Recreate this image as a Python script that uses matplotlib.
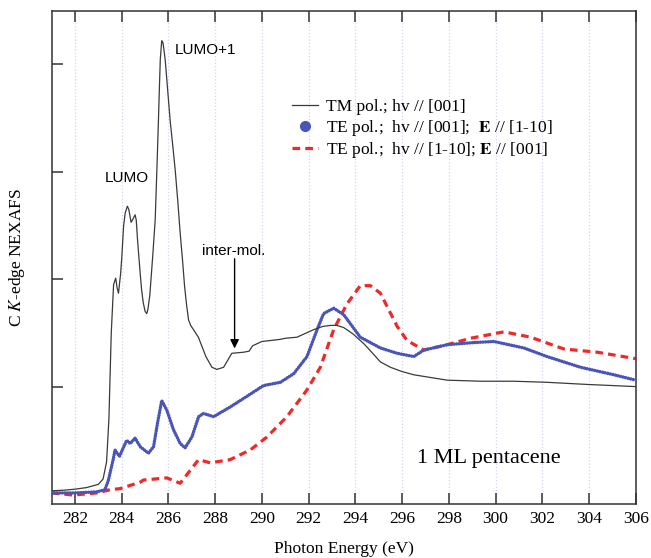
import matplotlib
matplotlib.use("Agg")
import matplotlib.pyplot as plt
from matplotlib.lines import Line2D

plt.rcParams['font.family'] = ['Liberation Serif', 'DejaVu Serif']
plt.rcParams['mathtext.fontset'] = 'stix'

# TM pol. (thin black line)
tm_x = [281.0, 281.5, 282.0, 282.5, 283.0, 283.2, 283.35, 283.45, 283.55, 283.65,
        283.74, 283.8, 283.86, 283.95, 284.0, 284.08, 284.15, 284.24, 284.3, 284.40,
        284.48, 284.57, 284.62, 284.68, 284.79, 284.85, 284.92, 285.0, 285.07, 285.12,
        285.2, 285.32, 285.43, 285.5, 285.57, 285.62, 285.65, 285.71, 285.75, 285.78,
        285.86, 285.95, 286.07, 286.18, 286.29, 286.4, 286.50, 286.6, 286.69, 286.78,
        286.86, 286.95, 287.07, 287.28, 287.6, 287.86, 288.07, 288.36, 288.71, 289.21,
        289.45, 289.6, 289.8, 290.0, 290.79, 291.0, 291.5, 292.21, 292.6, 292.93,
        293.2, 293.5, 293.9, 294.36, 294.7, 295.07, 295.5, 296.0, 296.5, 297.93,
        299.36, 300.78, 302.2, 303.93, 306.0]
tm_y = [0.03, 0.035, 0.045, 0.06, 0.09, 0.14, 0.3, 0.7, 1.5, 1.95,
        2.01, 1.92, 1.87, 2.05, 2.2, 2.5, 2.62, 2.68, 2.65, 2.53,
        2.56, 2.60, 2.55, 2.35, 2.05, 1.9, 1.78, 1.7, 1.68, 1.72,
        1.85, 2.2, 2.55, 3.0, 3.48, 3.85, 4.05, 4.22, 4.21, 4.18,
        4.04, 3.8, 3.48, 3.25, 3.01, 2.72, 2.43, 2.18, 1.93, 1.75,
        1.62, 1.57, 1.53, 1.46, 1.28, 1.18, 1.16, 1.18, 1.31, 1.32,
        1.33, 1.38, 1.40, 1.42, 1.44, 1.45, 1.46, 1.53, 1.56, 1.57,
        1.57, 1.55, 1.49, 1.40, 1.32, 1.23, 1.18, 1.14, 1.11, 1.06,
        1.05, 1.05, 1.04, 1.02, 1.00]

# TE pol., hv // [001] (blue dots)
te1_x = [281.0, 282.0, 282.93, 283.28, 283.43, 283.64, 283.71, 283.9, 284.21, 284.36,
         284.57, 284.79, 285.14, 285.36, 285.53, 285.71, 285.93, 286.21, 286.5, 286.71,
         287.0, 287.29, 287.5, 287.93, 288.64, 289.36, 290.07, 290.79, 291.36, 291.93,
         292.36, 292.64, 293.07, 293.5, 294.21, 295.07, 295.79, 296.5, 296.93, 297.93,
         299.07, 299.93, 300.36, 301.21, 302.2, 303.64, 305.07, 306.0]
te1_y = [0.01, 0.01, 0.02, 0.04, 0.13, 0.33, 0.41, 0.35, 0.50, 0.47,
         0.52, 0.44, 0.38, 0.44, 0.66, 0.87, 0.78, 0.60, 0.47, 0.43,
         0.53, 0.72, 0.75, 0.72, 0.81, 0.91, 1.01, 1.04, 1.12, 1.28,
         1.53, 1.68, 1.73, 1.67, 1.46, 1.36, 1.31, 1.28, 1.34, 1.39,
         1.41, 1.42, 1.40, 1.36, 1.28, 1.18, 1.11, 1.06]

# TE pol., hv // [1-10] (red dashed)
te2_x = [281.0, 281.93, 282.93, 283.5, 283.93, 284.79, 284.93, 285.93, 286.5, 286.93,
         287.29, 287.79, 288.64, 289.5, 290.21, 291.07, 291.93, 292.5, 293.07, 293.64,
         294.21, 294.64, 295.07, 295.79, 296.21, 296.93, 297.93, 298.93, 300.36, 301.5,
         302.93, 304.36, 306.0]
te2_y = [0.01, -0.01, 0.01, 0.04, 0.05, 0.11, 0.13, 0.15, 0.10, 0.22,
         0.32, 0.29, 0.32, 0.41, 0.53, 0.72, 0.97, 1.18, 1.53, 1.77,
         1.94, 1.94, 1.87, 1.56, 1.43, 1.34, 1.39, 1.45, 1.51, 1.46,
         1.35, 1.32, 1.26]

x_ticks = list(range(282, 307, 2))
y_ticks = [1, 2, 3, 4]

blue = '#4a55b8'
red = '#f02828'

fig = plt.figure(figsize=(6.51, 5.58), dpi=100)
ax = fig.add_axes([0.0794, 0.0968, 0.8971, 0.884])

ax.plot(te2_x, te2_y, color=red, lw=2.3, dashes=(2.4, 1.6), zorder=2)
ax.plot(te1_x, te1_y, color=blue, lw=2.5, linestyle=(0, (0.01, 0.75)),
        dash_capstyle='round', zorder=3)
ax.plot(tm_x, tm_y, color='#3a3a3a', lw=0.9, zorder=4)

ax.set_xlim(281, 306)
ax.set_ylim(-0.093, 4.5)
ax.set_xticks(x_ticks)
ax.set_yticks(y_ticks)
ax.set_yticklabels([])
ax.grid(axis='x', color='#d4d4f2', linestyle=':', lw=0.9)
ax.tick_params(axis='x', direction='in', length=8, width=1.1, top=True,
               labelsize=12.5, pad=5, color='#333333')
ax.tick_params(axis='y', direction='in', length=8, width=1.1, color='#333333')
for s in ax.spines.values():
    s.set_linewidth(1.1)
    s.set_color('#333333')

ax.set_xlabel('Photon Energy (eV)', fontsize=12.5, labelpad=10)
ax.set_ylabel('C $K$-edge NEXAFS', fontsize=12.5, labelpad=14)

# annotations
ax.text(283.28, 2.94, 'LUMO', family='Liberation Sans', fontsize=11, va='center')
ax.text(286.25, 4.13, 'LUMO+1', family='Liberation Sans', fontsize=11, va='center')
ax.text(287.43, 2.26, 'inter-mol.', family='Liberation Sans', fontsize=11, va='center')
ax.annotate('', xy=(288.83, 1.355), xytext=(288.83, 2.19),
            arrowprops=dict(arrowstyle='-|>', color='black', lw=1.0,
                            mutation_scale=13, shrinkA=0, shrinkB=0))
ax.text(296.62, 0.335, '1 ML pentacene', fontsize=16, va='center')

handles = [Line2D([], [], color='#3a3a3a', lw=0.9),
           Line2D([], [], color=blue, marker='o', ls='none', markersize=7),
           Line2D([], [], color=red, lw=2.3, dashes=(2.4, 1.6))]
labels = ['TM pol.; hv // [001]',
          'TE pol.;  hv // [001];  $\\mathbf{E}$ // [1-10]',
          'TE pol.;  hv // [1-10]; $\\mathbf{E}$ // [001]']
ax.legend(handles, labels, loc='upper left', bbox_to_anchor=(0.411, 0.821),
          frameon=False, fontsize=12.5, borderpad=0, borderaxespad=0,
          handlelength=1.5, handletextpad=0.45, labelspacing=0.15)

fig.savefig('out.png', dpi=100)
